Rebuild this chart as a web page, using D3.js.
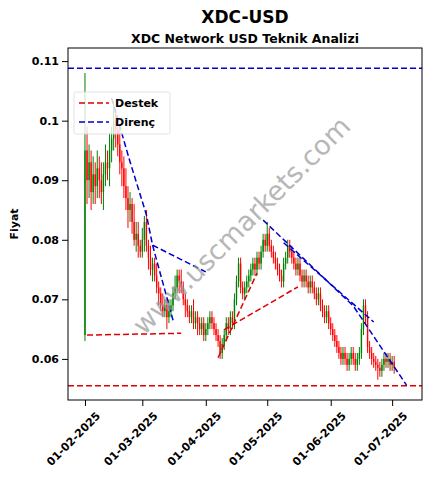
<!DOCTYPE html><html><head><meta charset="utf-8"><script src="https://cdn.jsdelivr.net/npm/d3@7"></script>
<style>body{margin:0;background:#fff}svg{font-family:"DejaVu Sans",sans-serif}</style></head><body><svg id="c" width="433" height="489"></svg>
<script>
const startDate = "2025-02-01";
const closes = [0.0950,0.0900,0.0930,0.0880,0.0910,0.0890,0.0920,0.0900,0.0880,0.0910,0.0930,0.0920,0.0950,0.0970,0.1000,0.0985,0.0960,0.0930,0.0920,0.0890,0.0870,0.0850,0.0860,0.0830,0.0800,0.0810,0.0790,0.0780,
0.0800,0.0830,0.0790,0.0770,0.0750,0.0760,0.0740,0.0720,0.0710,0.0690,0.0680,0.0690,0.0670,0.0680,0.0690,0.0710,0.0720,0.0740,0.0730,0.0720,0.0700,0.0690,0.0680,0.0670,0.0680,0.0660,0.0670,0.0660,0.0650,0.0660,0.0640,0.0650,0.0660,
0.0670,0.0660,0.0650,0.0640,0.0630,0.0610,0.0625,0.0640,0.0660,0.0650,0.0670,0.0660,0.0700,0.0730,0.0760,0.0720,0.0710,0.0720,0.0730,0.0740,0.0750,0.0760,0.0750,0.0770,0.0760,0.0780,0.0800,0.0790,0.0810,0.0790,
0.0780,0.0770,0.0760,0.0750,0.0740,0.0730,0.0760,0.0770,0.0790,0.0780,0.0770,0.0760,0.0750,0.0760,0.0740,0.0730,0.0740,0.0730,0.0720,0.0730,0.0720,0.0710,0.0700,0.0710,0.0690,0.0680,0.0670,0.0680,0.0660,0.0650,0.0640,
0.0630,0.0620,0.0610,0.0600,0.0610,0.0600,0.0590,0.0600,0.0610,0.0600,0.0590,0.0600,0.0610,0.0650,0.0690,0.0670,0.0620,0.0610,0.0600,0.0595,0.0590,0.0585,0.0580,0.0590,0.0600,0.0595,0.0600,0.0590,0.0595,0.0585];
const firstOpen = 0.064;
// wick extents in 1e-3 price units
const wickUp = [13,4,3,2,3,2,3,2,3,2,3,2,3,2,3,2,2,3,2,2,3,2,2,1,3,2,2,1,
2,1,2,1,2,1,1,2,1,1,2,1,1,2,1,1,2,1,1,2,1,1,1,1,1,2,1,1,1,1,1,1,1,
1,1,1,1,1,1,1,1,1,1,1,1,1,1,1,1,1,1,1,1,1,1,1,1,1,1,1,1,2,1,
1,1,1,1,1,1,1,1,1,1,1,1,1,1,1,1,1,1,1,1,1,1,1,1,1,1,1,1,1,1,1,
1,1,1,1,1,1,1,1,1,1,1,1,1,1,1,1,1,1,1,1,1,1,1,1,1,1,1,1,1,1];
const wickDn = [1,4,3,3,2,3,2,3,2,3,2,2,3,2,2,3,2,2,3,2,2,3,2,2,1,2,2,1,
1,2,1,2,1,2,1,1,2,1,1,1,2,1,1,1,1,1,2,1,1,2,1,1,1,1,1,2,1,1,1,1,1,
1,1,1,1,1,1,1,1,1,1,1,1,1,1,1,1,1,1,1,1,1,1,1,1,1,1,1,1,1,1,
1,1,1,1,1,1,1,1,1,1,1,1,1,1,1,1,1,1,1,1,1,1,1,1,1,1,1,1,1,1,1,
1,1,1,1,1,1,1,1,1,1,1,1,1,1,1,1,1,1,1,1,1,2,1,1,1,1,1,1,1,1];
const yTicks = [0.06,0.07,0.08,0.09,0.1,0.11];
const xTicks = ["2025-02-01","2025-03-01","2025-04-01","2025-05-01","2025-06-01","2025-07-01"];
const resistanceLevel = 0.1088, supportLevel = 0.0555;
const supportSegs = [[["2025-02-02",0.0640],["2025-03-20",0.0643]],[["2025-04-07",0.0602],["2025-04-26",0.0744]],[["2025-04-10",0.0649],["2025-05-16",0.0721]]];
const resistSegs = [[["2025-02-14",0.1038],["2025-02-23",0.0931],["2025-03-03",0.0842],["2025-03-06",0.0791],["2025-04-01",0.0746]],
[["2025-03-06",0.0791],["2025-03-16",0.0665]],
[["2025-04-29",0.0833],["2025-06-12",0.0689],["2025-07-08",0.0556]],
[["2025-05-09",0.0795],["2025-06-22",0.0662]]];

const p = d3.timeParse("%Y-%m-%d");
const pt = d3.timeParse("%Y-%m-%d %H");
const svg = d3.select("#c");
const L=68,R=422,T=48,B=400;
const x = d3.scaleTime().domain([pt("2025-01-23 17"),pt("2025-07-15 14")]).range([L,R]);
const y = d3.scaleLinear().domain([0.0531,0.1122]).range([B,T]);
const s0 = p(startDate);
const data = closes.map((c,i)=>{const o=i?closes[i-1]:firstOpen;return {d:d3.timeDay.offset(s0,i),o,c,h:Math.max(o,c)+wickUp[i]/1000,l:Math.min(o,c)-wickDn[i]/1000};});
svg.append("text").attr("x",245).attr("y",23).attr("text-anchor","middle").attr("font-size",17).attr("font-weight","bold").text("XDC-USD");
svg.append("text").attr("x",245).attr("y",43).attr("text-anchor","middle").attr("font-size",12.5).attr("font-weight","bold").text("XDC Network USD Teknik Analizi");
svg.append("text").attr("transform","translate(18,224) rotate(-90)").attr("text-anchor","middle").attr("font-size",11).attr("font-weight","bold").text("Fiyat");
const g=svg.append("g");
g.selectAll(".w").data(data).join("line").attr("x1",d=>x(d.d)).attr("x2",d=>x(d.d)).attr("y1",d=>y(d.h)).attr("y2",d=>y(d.l)).attr("stroke",d=>d.c>=d.o?"green":"red").attr("stroke-width",1);
g.selectAll(".b").data(data).join("rect").attr("x",d=>x(d.d)-0.7).attr("width",1.4).attr("y",d=>y(Math.max(d.o,d.c))).attr("height",d=>Math.max(0.8,Math.abs(y(d.o)-y(d.c)))).attr("fill",d=>d.c>=d.o?"green":"red");
const ln=d3.line().x(d=>x(p(d[0]))).y(d=>y(d[1]));
const dash="6,3";
g.append("line").attr("x1",L).attr("x2",R).attr("y1",y(resistanceLevel)).attr("y2",y(resistanceLevel)).attr("stroke","#0000cc").attr("stroke-width",1.5).attr("stroke-dasharray",dash);
g.append("line").attr("x1",L).attr("x2",R).attr("y1",y(supportLevel)).attr("y2",y(supportLevel)).attr("stroke","#dd0000").attr("stroke-width",1.5).attr("stroke-dasharray",dash);
supportSegs.forEach(s=>g.append("path").attr("d",ln(s)).attr("fill","none").attr("stroke","#dd0000").attr("stroke-width",1.5).attr("stroke-dasharray",dash));
resistSegs.forEach(s=>g.append("path").attr("d",ln(s)).attr("fill","none").attr("stroke","#0000cc").attr("stroke-width",1.5).attr("stroke-dasharray",dash));
svg.append("text").attr("transform","translate(248,232) rotate(-45)").attr("text-anchor","middle").attr("font-size",27).attr("fill","#999").attr("opacity",0.7).text("www.uscmarkets.com");
svg.append("rect").attr("x",L).attr("y",T).attr("width",R-L).attr("height",B-T).attr("fill","none").attr("stroke","#000");
const ya=svg.append("g").attr("transform",`translate(${L},0)`).call(d3.axisLeft(y).tickValues(yTicks).tickFormat(d=>String(+d.toFixed(2))).tickSizeOuter(0));
ya.selectAll("text").attr("font-size",11).attr("font-weight","bold").attr("fill","#000").attr("font-family","DejaVu Sans");
ya.select(".domain").remove();
const xa=svg.append("g").attr("transform",`translate(0,${B})`).call(d3.axisBottom(x).tickValues(xTicks.map(p)).tickFormat(d3.timeFormat("%d-%m-%Y")).tickSizeOuter(0));
xa.select(".domain").remove();
xa.selectAll("text").attr("font-size",11).attr("font-weight","bold").attr("fill","#000").attr("font-family","DejaVu Sans").attr("text-anchor","end").attr("transform","translate(8,6) rotate(-45)").attr("dy","0.35em").attr("dx","-0.2em");
const lg=svg.append("g").attr("transform","translate(74,92)");
lg.append("rect").attr("width",96).attr("height",42).attr("fill","#fff").attr("opacity",0.8).attr("stroke","#ddd").attr("rx",2);
[["Destek","#dd0000"],["Direnç","#0000cc"]].forEach((e,i)=>{lg.append("line").attr("x1",5).attr("x2",35).attr("y1",11+i*19).attr("y2",11+i*19).attr("stroke",e[1]).attr("stroke-width",1.5).attr("stroke-dasharray",dash);
lg.append("text").attr("x",41).attr("y",15+i*19).attr("font-size",11).attr("font-weight","bold").text(e[0]);});
</script></body></html>
